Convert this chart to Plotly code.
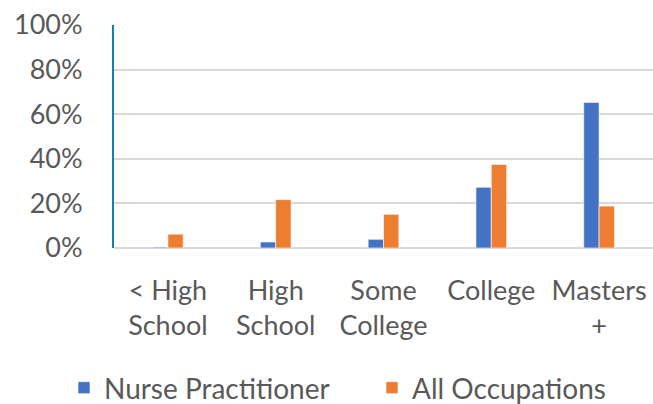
import plotly.graph_objects as go

categories = ["&lt; High<br>School", "High<br>School", "Some<br>College", "College", "Masters<br>+"]
nurse_practitioner = [0.004, 0.027, 0.039, 0.272, 0.653]
all_occupations = [0.062, 0.217, 0.151, 0.375, 0.188]
y_ticks = [0, 0.2, 0.4, 0.6, 0.8, 1.0]

FONT = "Lato"
GREY = "#595959"

fig = go.Figure()
fig.add_trace(go.Bar(
    x=categories, y=nurse_practitioner, name="Nurse Practitioner",
    marker=dict(color="#4472C4", line=dict(color="rgba(255,255,255,0.6)", width=1)),
    legend="legend",
))
fig.add_trace(go.Bar(
    x=categories, y=all_occupations, name="All Occupations",
    marker=dict(color="#ED7D31", line=dict(color="rgba(255,255,255,0.6)", width=1)),
    legend="legend2",
))

legend_common = dict(
    orientation="h", xref="container", yref="container",
    xanchor="left", y=1 - 363 / 404, yanchor="top",
    font=dict(family=FONT, size=28, color=GREY),
    itemwidth=30,
)

fig.update_layout(
    width=653, height=404,
    margin=dict(l=114, r=0, t=25, b=156, autoexpand=False),
    paper_bgcolor="white", plot_bgcolor="white",
    barmode="group", bargap=0.715, bargroupgap=0,
    font=dict(family=FONT, size=27, color=GREY),
    showlegend=True,
    legend=dict(x=64 / 653, **legend_common),
    legend2=dict(x=372 / 653, **legend_common),
    xaxis=dict(
        showgrid=False, showline=False, ticks="", automargin=False,
        tickfont=dict(family=FONT, size=27, color=GREY),
        ticklabelstandoff=24, tickangle=0,
    ),
    yaxis=dict(
        range=[0, 1], tickvals=y_ticks, tickformat=".0%", automargin=False,
        showgrid=True, gridcolor="#d9d9d9", gridwidth=1.5,
        zeroline=True, zerolinecolor="#d9d9d9", zerolinewidth=1.5,
        showline=True, linecolor="#1380b2", linewidth=2,
        ticks="", ticklabelstandoff=24,
        tickfont=dict(family=FONT, size=27, color=GREY),
    ),
)

fig.write_html(
    "out.html",
    config={"displayModeBar": False},
    post_script="document.body.style.margin='0';",
)
